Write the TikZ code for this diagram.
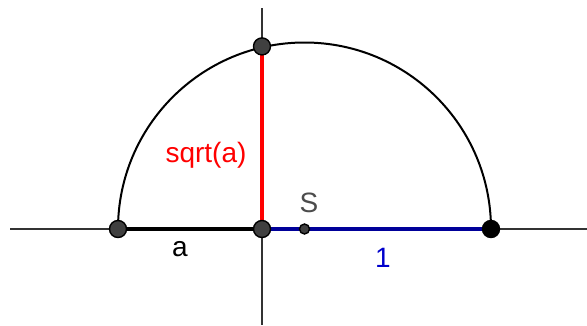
\documentclass[tikz,border=0pt]{standalone}
\usepackage{fontspec}
\setmainfont{Liberation Sans}
\begin{document}
\begin{tikzpicture}[x=1pt, y=-1pt, font=\fontsize{28}{30}\selectfont,
      axis/.style={draw=black!80, line width=1.2pt},
      pt/.style={circle, draw=black, line width=1.4pt, fill=black!75, inner sep=0pt, minimum size=17pt},
      lbl/.style={inner sep=0pt}]
    \useasboundingbox (0,0) rectangle (587,325);
    % axes
    \coordinate (xl) at (10,229);
    \coordinate (xr) at (587,229);
    \coordinate (yt) at (262,8);
    \coordinate (yb) at (262,325);
    \draw[axis] (xl) -- (xr);
    \draw[axis] (yt) -- (yb);
    % points
    \coordinate (A) at (118,229);
    \coordinate (O) at (262,229);
    \coordinate (B) at (491,229);
    \coordinate (S) at (304.5,229);
    \coordinate (P) at (262,46.4);
    % half circle
    \draw[line width=2pt] (A) arc[start angle=180, end angle=360, radius=186.5];
    % segments
    \draw[line width=4pt] (A) -- (O);
    \draw[line width=4pt, blue!60!black] (O) -- (B);
    \draw[line width=4pt, red] (O) -- (P);
    \node[pt] (na) at (A) {};
    \node[pt] (no) at (O) {};
    \node[pt] (np) at (P) {};
    \node[pt, fill=black] (nb) at (B) {};
    \node[pt, minimum size=10pt] (ns) at (S) {};
    % labels
    \node[lbl] (la) at (180,249) {a};
    \node[lbl, text=blue!80!black] (l1) at (383,258) {1};
    \node[lbl, text=black!70] (lS) at (309,203) {S};
    \node[lbl, text=red] (lr) at (206,155) {sqrt(a)};
\end{tikzpicture}
\end{document}
